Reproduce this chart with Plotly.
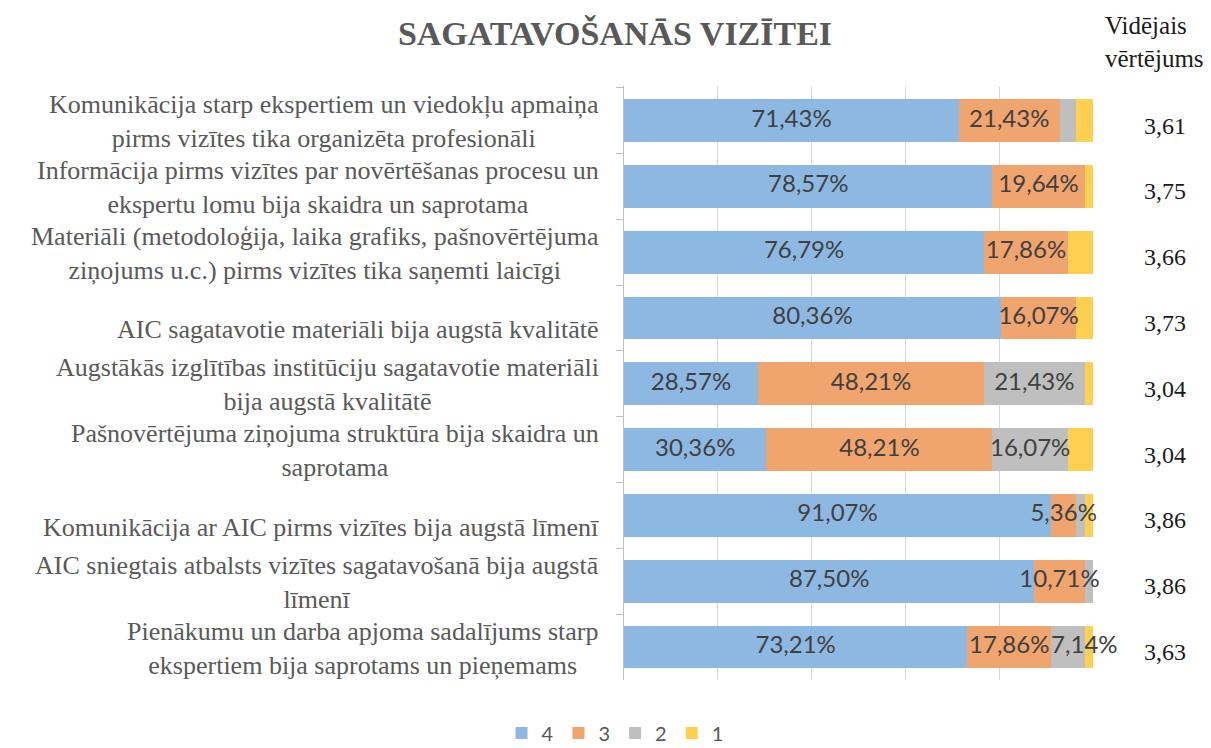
import plotly.graph_objects as go

categories = [
    "Komunikācija starp ekspertiem un viedokļu apmaiņa<br>pirms vizītes tika organizēta profesionāli",
    "Informācija pirms vizītes par novērtēšanas procesu un<br>ekspertu lomu bija skaidra un saprotama",
    "Materiāli (metodoloģija, laika grafiks, pašnovērtējuma<br>ziņojums u.c.) pirms vizītes tika saņemti laicīgi",
    "AIC sagatavotie materiāli bija augstā kvalitātē",
    "Augstākās izglītības institūciju sagatavotie materiāli<br>bija augstā kvalitātē",
    "Pašnovērtējuma ziņojuma struktūra bija skaidra un<br>saprotama",
    "Komunikācija ar AIC pirms vizītes bija augstā līmenī",
    "AIC sniegtais atbalsts vizītes sagatavošanā bija augstā<br>līmenī",
    "Pienākumu un darba apjoma sadalījums starp<br>ekspertiem bija saprotams un pieņemams",
]

s4 = [71.43, 78.57, 76.79, 80.36, 28.57, 30.36, 91.07, 87.50, 73.21]
s3 = [21.43, 19.64, 17.86, 16.07, 48.21, 48.21, 5.36, 10.71, 17.86]
s2 = [3.57, 0.00, 0.00, 0.00, 21.43, 16.07, 1.79, 1.79, 7.14]
s1 = [3.57, 1.79, 5.36, 3.57, 1.79, 5.36, 1.79, 0.00, 1.79]

averages = ["3,61", "3,75", "3,66", "3,73", "3,04", "3,04", "3,86", "3,86", "3,63"]

series = [
    ("4", s4, "#8db8e2", 0.0),
    ("3", s3, "#f0a46e", 0.0),
    ("2", s2, "#bfbfbf", 5.0),
    ("1", s1, "#ffd04f", 101.0),
]

def fmt(v):
    return f"{v:.2f}%".replace(".", ",")

fig = go.Figure()
base = [0.0] * len(categories)
lab_c = dict(x=[], y=[], t=[])   # centred labels
lab_r = dict(x=[], y=[], t=[])   # narrow segments: label starts at segment
for si, (name, vals, color, thr) in enumerate(series):
    xs = [v / 100 for v in vals]
    fig.add_trace(go.Bar(
        y=categories,
        x=xs,
        name=name,
        orientation="h",
        marker=dict(color=color, line=dict(width=0)),
        width=0.65,
        hoverinfo="skip",
    ))
    for i, v in enumerate(vals):
        if v > 0 and v >= thr:
            if si >= 2 and v < 10:
                lab_r["x"].append(base[i])
                lab_r["y"].append(categories[i])
                lab_r["t"].append(fmt(v))
            else:
                lab_c["x"].append(base[i] + xs[i] / 2)
                lab_c["y"].append(categories[i])
                lab_c["t"].append(fmt(v))
    base = [b + x for b, x in zip(base, xs)]

for lab, pos in ((lab_c, "middle center"), (lab_r, "middle right")):
    fig.add_trace(go.Scatter(
        x=lab["x"], y=lab["y"], text=lab["t"], mode="text",
        textposition=pos,
        textfont=dict(family="Lato", size=24, color="#404040"),
        showlegend=False, hoverinfo="skip", cliponaxis=False,
    ))

annotations = []
for cat in categories:
    two = "<br>" in cat
    annotations.append(dict(
        xref="paper", yref="y", x=-0.049, y=cat,
        text=cat, showarrow=False, xanchor="right", yanchor="middle",
        align="center", yshift=-1 if two else -12,
        font=dict(family="Liberation Serif", size=26, color="#595959"),
    ))
for cat, avg in zip(categories, averages):
    annotations.append(dict(
        xref="paper", yref="y", x=(1165 - 624) / 469, y=cat,
        text=avg, showarrow=False, xanchor="center", yanchor="middle",
        yshift=-5,
        font=dict(family="Liberation Serif", size=24, color="#1a1a1a"),
    ))
annotations.append(dict(
    xref="paper", yref="paper", x=(1103 - 624) / 469, y=1 + (86 - 42) / 594,
    text="Vidējais<br>vērtējums", showarrow=False, xanchor="left", yanchor="middle",
    align="left",
    font=dict(family="Liberation Serif", size=25, color="#1a1a1a"),
))

fig.update_layout(
    barmode="stack",
    width=1211, height=748,
    autosize=False,
    margin=dict(l=624, r=118, t=86, b=68, autoexpand=False),
    paper_bgcolor="white", plot_bgcolor="white",
    title=dict(
        text="<b>SAGATAVOŠANĀS VIZĪTEI</b>",
        x=615 / 1211, xanchor="center", xref="container",
        y=1 - 33 / 748, yanchor="middle", yref="container",
        font=dict(family="Liberation Serif", size=34, color="#595959"),
    ),
    xaxis=dict(
        range=[0, 1], dtick=0.2, tick0=0, showgrid=True, gridcolor="#d9d9d9",
        gridwidth=1, showticklabels=False, zeroline=False, showline=False,
        fixedrange=True,
    ),
    yaxis=dict(
        autorange="reversed", showticklabels=False, showline=True,
        linecolor="#bfbfbf", linewidth=1, ticks="outside", tickson="boundaries",
        ticklen=7, tickcolor="#bfbfbf", showgrid=False, fixedrange=True,
    ),
    legend=dict(
        orientation="h", x=615 / 1211, xanchor="center", xref="container",
        y=1 - 733 / 748, yanchor="middle", yref="container",
        font=dict(family="Lato", size=20, color="#595959"),
        itemwidth=30, traceorder="normal",
    ),
    annotations=annotations,
    showlegend=True,
    bargap=0.35,
)

fig.write_html("out.html")
